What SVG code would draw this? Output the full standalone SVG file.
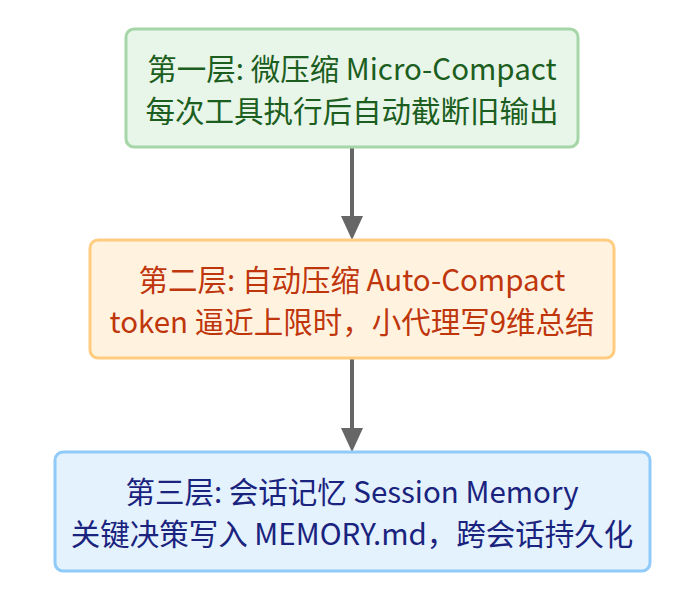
<svg xmlns="http://www.w3.org/2000/svg" width="690" height="605" viewBox="0 0 690 605">
<defs>
<style>
.box{stroke-width:3}
.t{font-family:"Noto Sans CJK SC","Noto Sans",sans-serif;font-size:29.5px;text-anchor:middle;dominant-baseline:central}
.edge{stroke:#666;stroke-width:4;fill:none}
.head{fill:#666}
</style>
</defs>
<rect width="690" height="605" fill="#fff"/>
<g id="connectors">
<line class="edge" x1="352" y1="147" x2="352" y2="220"/>
<polygon class="head" points="341,216 363,216 352,240"/>
<line class="edge" x1="352" y1="358" x2="352" y2="432"/>
<polygon class="head" points="341,428 363,428 352,452"/>
</g>
<g id="n1">
<rect class="box" x="126" y="29" width="452" height="118" rx="8" fill="#e8f5e9" stroke="#a5d6a7"/>
<text class="t" x="352" y="67" fill="#1b5e20">第一层: 微压缩 Micro-Compact</text>
<text class="t" x="352" y="109" fill="#1b5e20">每次工具执行后自动截断旧输出</text>
</g>
<g id="n2">
<rect class="box" x="90" y="240" width="524" height="118" rx="8" fill="#fff3e0" stroke="#ffcc80"/>
<text class="t" x="352" y="278" fill="#bf360c">第二层: 自动压缩 Auto-Compact</text>
<text class="t" x="352" y="320" fill="#bf360c">token 逼近上限时，小代理写9维总结</text>
</g>
<g id="n3">
<rect class="box" x="55" y="452" width="595" height="119" rx="8" fill="#e3f2fd" stroke="#90caf9"/>
<text class="t" x="352" y="490" fill="#1a237e">第三层: 会话记忆 Session Memory</text>
<text class="t" x="352" y="532" fill="#1a237e">关键决策写入 MEMORY.md，跨会话持久化</text>
</g>
</svg>
